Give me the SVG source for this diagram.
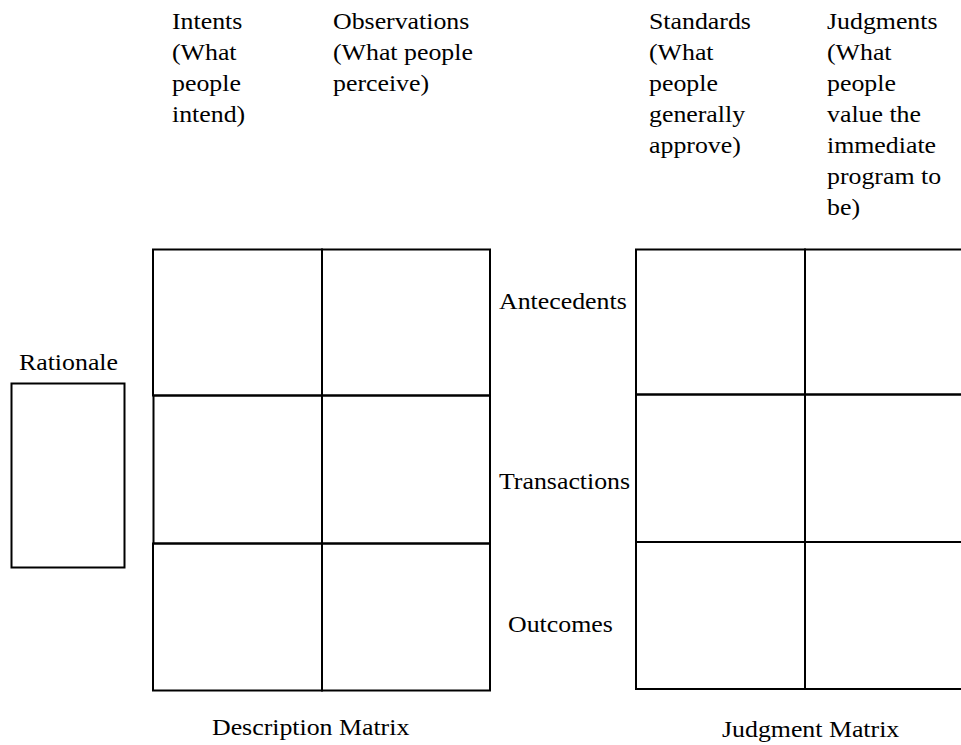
<svg xmlns="http://www.w3.org/2000/svg" width="961" height="745" viewBox="0 0 961 745">
<style>
  .box { fill: none; stroke: #000; stroke-width: 2; }
  .t { font-family: "Liberation Serif", "Times New Roman", serif; font-size: 23.5px; fill: #000; }
</style>
<rect width="961" height="745" fill="#fff"/>

<g id="col-intents">
  <text class="t" transform="matrix(1.1 0 0 1 172 29)">Intents</text>
  <text class="t" transform="matrix(1.1 0 0 1 172 60)">(What</text>
  <text class="t" transform="matrix(1.1 0 0 1 172 91)">people</text>
  <text class="t" transform="matrix(1.1 0 0 1 172 122)">intend)</text>
</g>
<g id="col-observations">
  <text class="t" transform="matrix(1.1 0 0 1 333 29)">Observations</text>
  <text class="t" transform="matrix(1.1 0 0 1 333 60)">(What people</text>
  <text class="t" transform="matrix(1.1 0 0 1 333 91)">perceive)</text>
</g>
<g id="col-standards">
  <text class="t" transform="matrix(1.1 0 0 1 649 29)">Standards</text>
  <text class="t" transform="matrix(1.1 0 0 1 649 60)">(What</text>
  <text class="t" transform="matrix(1.1 0 0 1 649 91)">people</text>
  <text class="t" transform="matrix(1.1 0 0 1 649 122)">generally</text>
  <text class="t" transform="matrix(1.1 0 0 1 649 153)">approve)</text>
</g>
<g id="col-judgments">
  <text class="t" transform="matrix(1.1 0 0 1 827 29)">Judgments</text>
  <text class="t" transform="matrix(1.1 0 0 1 827 60)">(What</text>
  <text class="t" transform="matrix(1.1 0 0 1 827 91)">people</text>
  <text class="t" transform="matrix(1.1 0 0 1 827 122)">value the</text>
  <text class="t" transform="matrix(1.1 0 0 1 827 153)">immediate</text>
  <text class="t" transform="matrix(1.1 0 0 1 827 184)">program to</text>
  <text class="t" transform="matrix(1.1 0 0 1 827 215)">be)</text>
</g>

<g id="rationale">
  <text class="t" transform="matrix(1.1 0 0 1 19 370)">Rationale</text>
  <rect class="box" x="11.5" y="383.5" width="113" height="184"/>
</g>

<g id="description-matrix">
  <rect class="box" x="153" y="249.5" width="169" height="146"/>
  <rect class="box" x="322" y="249.5" width="168" height="146"/>
  <rect class="box" x="153.5" y="395.5" width="168.5" height="148"/>
  <rect class="box" x="322" y="395.5" width="168" height="148"/>
  <rect class="box" x="153" y="543.5" width="169" height="147"/>
  <rect class="box" x="322" y="543.5" width="168" height="147"/>
  <text class="t" transform="matrix(1.1 0 0 1 212 735)">Description Matrix</text>
</g>

<g id="row-labels">
  <text class="t" transform="matrix(1.1 0 0 1 499 309)">Antecedents</text>
  <text class="t" transform="matrix(1.1 0 0 1 499 489)">Transactions</text>
  <text class="t" transform="matrix(1.1 0 0 1 508 632)">Outcomes</text>
</g>

<g id="judgment-matrix">
  <rect class="box" x="636" y="249.5" width="169" height="145"/>
  <rect class="box" x="805" y="249.5" width="170" height="145"/>
  <rect class="box" x="636" y="394.5" width="169" height="147.5"/>
  <rect class="box" x="805" y="394.5" width="170" height="147.5"/>
  <rect class="box" x="636" y="542" width="169" height="147"/>
  <rect class="box" x="805" y="542" width="170" height="147"/>
  <text class="t" transform="matrix(1.1 0 0 1 722 737)">Judgment Matrix</text>
</g>

<g id="connectors"></g>
</svg>
